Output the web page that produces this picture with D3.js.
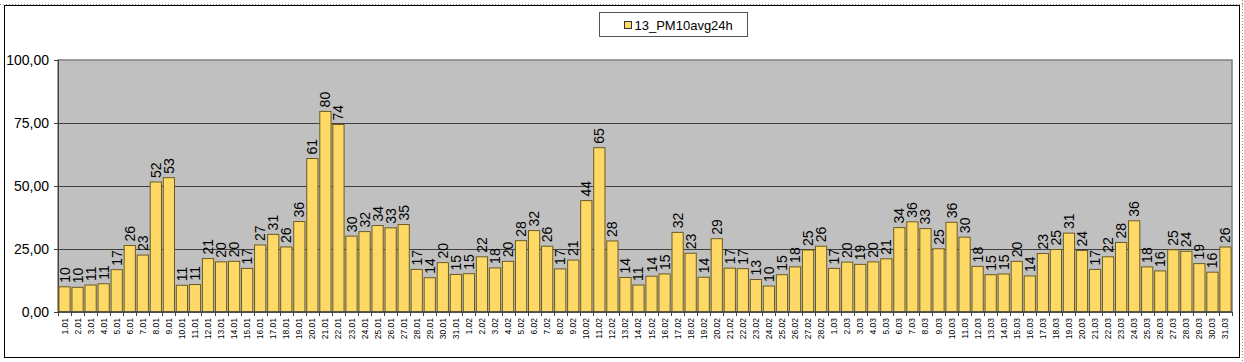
<!DOCTYPE html>
<html lang="en">
<head>
    <meta charset="utf-8" />
    <title>13_PM10avg24h</title>
    <script src="https://d3js.org/d3.v7.min.js"></script>
    <style>
        body { margin: 0; background: #fff; }
        svg { display: block; font-family: Arial, "Liberation Sans", sans-serif; }
    </style>
</head>
<body>
    <div id="chart"></div>
    <script>
        // daily PM10 24h averages, Jan-Mar 2013
        var janValues = [10, 9.8, 10.7, 11.2, 16.8, 26.4, 22.6, 51.6, 53.3, 10.6, 10.9, 21.2, 19.9, 20.1, 17.3, 26.6, 30.8, 25.8, 35.9,
            60.9, 79.6, 74.4, 30.1, 31.9, 34.3, 33.4, 34.7, 16.9, 13.6, 19.6, 14.9];
        var febValues = [15.2, 21.9, 17.5, 20.1, 28.3, 32.3, 26.1, 17.1, 20.6, 44.2, 65.2, 28.2, 13.7, 10.7, 14.2, 15.1, 31.6, 23.3, 13.8,
            29.1, 17.4, 17.2, 12.9, 10.3, 14.8, 17.9, 24.6, 26.1];
        var marValues = [17.3, 19.8, 18.9, 19.9, 21.1, 33.5, 35.8, 33.1, 25.1, 35.6, 29.7, 18.1, 14.8, 15.1, 20.1, 14.3, 23.2, 24.8, 31.3,
            24.4, 16.9, 21.9, 27.6, 36.2, 17.9, 16.3, 24.7, 24.1, 19.2, 15.8, 25.8];
        var seriesName = '13_PM10avg24h';
        var yTicks = [0, 25, 50, 75, 100];

        var data = [];
        [[janValues, '01'], [febValues, '02'], [marValues, '03']].forEach(function(m) {
            m[0].forEach(function(v, i) {
                data.push({ label: (i + 1) + '.' + m[1], value: v });
            });
        });

        var width = 1244, height = 362;
        var margin = { left: 58, top: 60, right: 12, bottom: 50 };
        var plotW = 1232 - margin.left;
        var plotH = 312 - margin.top;

        var svg = d3.select('#chart').append('svg')
            .attr('width', width)
            .attr('height', height);

        // outer chart frame
        svg.append('rect')
            .attr('x', 4.5).attr('y', 5.5)
            .attr('width', 1235).attr('height', 352)
            .attr('fill', '#fff')
            .attr('stroke', '#000');
        svg.append('line')
            .attr('x1', 0).attr('x2', width).attr('y1', 4.5).attr('y2', 4.5)
            .attr('stroke', '#888').attr('stroke-dasharray', '1,2');
        svg.append('line')
            .attr('x1', 1242.5).attr('x2', 1242.5).attr('y1', 0).attr('y2', height)
            .attr('stroke', '#888').attr('stroke-dasharray', '1,2');

        var x = d3.scaleBand()
            .domain(data.map(function(d) { return d.label; }))
            .range([0, plotW])
            .paddingInner(0.14)
            .paddingOuter(0.07);

        var y = d3.scaleLinear()
            .domain([0, 100])
            .range([plotH, 0]);

        var g = svg.append('g')
            .attr('transform', 'translate(' + margin.left + ',' + margin.top + ')');

        g.append('rect')
            .attr('width', plotW).attr('height', plotH)
            .attr('fill', '#c0c0c0')
            .attr('stroke', '#808080')
            .attr('stroke-width', 1.5);

        // gridlines
        g.selectAll('.grid')
            .data(yTicks.filter(function(t) { return t > 0 && t < 100; }))
            .enter().append('line')
            .attr('x1', 0).attr('x2', plotW)
            .attr('y1', function(d) { return Math.round(y(d)) + 0.5; })
            .attr('y2', function(d) { return Math.round(y(d)) + 0.5; })
            .attr('stroke', '#404040');

        // y axis
        var yAxis = g.append('g')
            .call(d3.axisLeft(y).tickValues(yTicks).tickSize(4).tickPadding(5)
                .tickFormat(function(d) { return d3.format('.2f')(d).replace('.', ','); }));
        yAxis.select('.domain').attr('stroke', '#404040');
        yAxis.selectAll('line').attr('stroke', '#404040');
        yAxis.selectAll('text').attr('font-size', 14).attr('fill', '#000')
            .attr('font-family', 'Arial, "Liberation Sans", sans-serif');

        // bars
        g.selectAll('.bar')
            .data(data)
            .enter().append('rect')
            .attr('class', 'bar')
            .attr('x', function(d) { return x(d.label); })
            .attr('y', function(d) { return y(d.value); })
            .attr('width', x.bandwidth())
            .attr('height', function(d) { return plotH - y(d.value); })
            .attr('fill', '#ffd966')
            .attr('stroke', '#6b5a20')
            .attr('stroke-width', 1);

        // value labels
        g.selectAll('.val')
            .data(data)
            .enter().append('text')
            .attr('transform', function(d) {
                return 'translate(' + (x(d.label) + x.bandwidth() / 2 + 5) + ',' + (y(d.value) - 4) + ') rotate(-90)';
            })
            .attr('font-size', 14)
            .attr('fill', '#000')
            .text(function(d) { return d3.format('.0f')(d.value); });

        // x axis
        var step = x.step();
        var xAxis = g.append('g').attr('transform', 'translate(0,' + plotH + ')');
        xAxis.append('line')
            .attr('x1', 0).attr('x2', plotW)
            .attr('stroke', '#404040').attr('stroke-width', 1.5);
        xAxis.selectAll('.tick')
            .data(d3.range(data.length + 1))
            .enter().append('line')
            .attr('x1', function(i) { return Math.round(i * step) + 0.5; })
            .attr('x2', function(i) { return Math.round(i * step) + 0.5; })
            .attr('y1', 0).attr('y2', 4)
            .attr('stroke', '#404040');
        xAxis.selectAll('.xl')
            .data(data)
            .enter().append('text')
            .attr('transform', function(d) {
                return 'translate(' + (x(d.label) + x.bandwidth() / 2 + 3) + ',6) rotate(-90)';
            })
            .attr('text-anchor', 'end')
            .attr('font-size', 8.5)
            .attr('fill', '#000')
            .text(function(d) { return d.label; });

        // legend
        var legend = svg.append('g').attr('transform', 'translate(599.5,12.5)');
        legend.append('rect')
            .attr('width', 148).attr('height', 24)
            .attr('fill', '#fff').attr('stroke', '#555');
        legend.append('rect')
            .attr('x', 25).attr('y', 9).attr('width', 7).attr('height', 7)
            .attr('fill', '#ffd966').attr('stroke', '#333');
        legend.append('text')
            .attr('x', 35).attr('y', 17)
            .attr('font-size', 13)
            .attr('fill', '#000')
            .text(seriesName);
    </script>
</body>
</html>
